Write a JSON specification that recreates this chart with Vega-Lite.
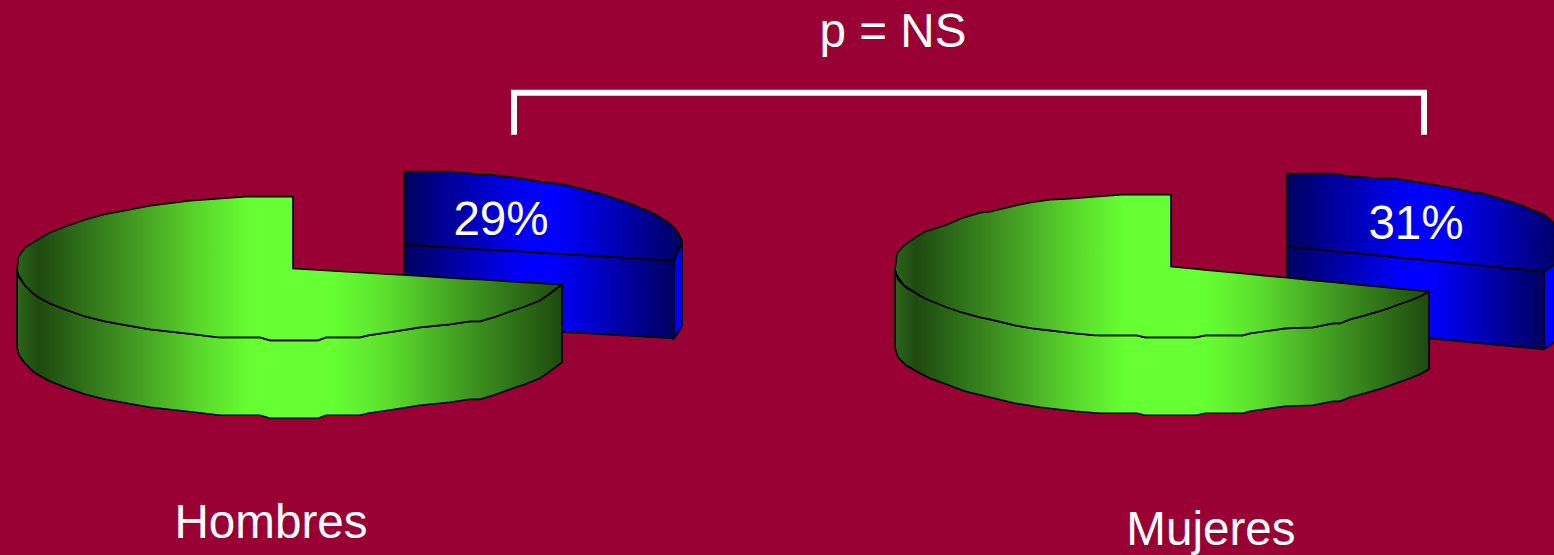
{"$schema":"https://vega.github.io/schema/vega-lite/v6.json","width":1554,"height":555,"autosize":{"type":"fit","contains":"padding"},"padding":0,"background":"#990033","config":{"view":{"stroke":null}},
"encoding":{"x":{"field":"x","type":"quantitative","axis":null,"scale":{"domain":[0,1554],"nice":false,"zero":false}},"y":{"field":"y","type":"quantitative","axis":null,"scale":{"domain":[555,0],"nice":false,"zero":false}}},
"layer":[
{"data":{"values":[{"x":514,"y":135,"i":0},{"x":514,"y":93,"i":1},{"x":1424,"y":93,"i":2},{"x":1424,"y":135,"i":3}]},"mark":{"type":"line","color":"#ffffff","strokeWidth":6,"strokeJoin":"miter","strokeCap":"butt"},"encoding":{"order":{"field":"i","type":"quantitative"}}},
{"data":{"values":[{"x":404,"y":245,"y2":323},{"x":674,"y":261,"y2":339}]},"mark":{"type":"area","orient":"vertical","stroke":"#000000","strokeWidth":1.7,"fill":{"gradient":"linear","stops":[{"offset":0,"color":"#000060"},{"offset":0.45,"color":"#0000ff"},{"offset":0.55,"color":"#0000ff"},{"offset":1,"color":"#000060"}]}},"encoding":{"y2":{"field":"y2"}}},
{"data":{"values":[{"x":674,"y":261,"y2":339},{"x":679,"y":250,"y2":332},{"x":682,"y":241,"y2":326}]},"mark":{"type":"area","orient":"vertical","stroke":"#000000","strokeWidth":1.7,"fill":"#0000ff"},"encoding":{"y2":{"field":"y2"}}},
{"data":{"values":[{"x":404,"y":172,"y2":245},{"x":453,"y":172,"y2":247.9},{"x":480,"y":175,"y2":249.5},{"x":490,"y":175,"y2":250.1},{"x":515,"y":178,"y2":251.6},{"x":540,"y":182,"y2":253.1},{"x":565,"y":185,"y2":254.5},{"x":600,"y":194,"y2":256.6},{"x":625,"y":202,"y2":258.1},{"x":650,"y":212,"y2":259.6},{"x":660,"y":217.5,"y2":260.2},{"x":670,"y":224,"y2":260.8},{"x":674,"y":228,"y2":261},{"x":678,"y":233,"y2":251},{"x":682,"y":241,"y2":243}]},"mark":{"type":"area","orient":"vertical","stroke":"#000000","strokeWidth":1.7,"fill":{"gradient":"linear","stops":[{"offset":0,"color":"#000060"},{"offset":0.45,"color":"#0000ff"},{"offset":0.55,"color":"#0000ff"},{"offset":1,"color":"#000060"}]}},"encoding":{"y2":{"field":"y2"}}},
{"data":{"values":[{"x":1287,"y":247,"y2":325},{"x":1544,"y":272,"y2":350}]},"mark":{"type":"area","orient":"vertical","stroke":"#000000","strokeWidth":1.7,"fill":{"gradient":"linear","stops":[{"offset":0,"color":"#000060"},{"offset":0.45,"color":"#0000ff"},{"offset":0.55,"color":"#0000ff"},{"offset":1,"color":"#000060"}]}},"encoding":{"y2":{"field":"y2"}}},
{"data":{"values":[{"x":1544,"y":272,"y2":350},{"x":1554,"y":265,"y2":343},{"x":1565,"y":250,"y2":330}]},"mark":{"type":"area","orient":"vertical","clip":true,"stroke":"#000000","strokeWidth":1.7,"fill":"#0000ff"},"encoding":{"y2":{"field":"y2"}}},
{"data":{"values":[{"x":1287,"y":174,"y2":247},{"x":1333,"y":174,"y2":251.5},{"x":1345,"y":176,"y2":252.6},{"x":1370,"y":178,"y2":255.1},{"x":1395,"y":179,"y2":257.5},{"x":1420,"y":183,"y2":259.9},{"x":1445,"y":187,"y2":262.4},{"x":1470,"y":192,"y2":264.8},{"x":1480,"y":193,"y2":265.8},{"x":1500,"y":199,"y2":267.8},{"x":1520,"y":205,"y2":269.7},{"x":1533,"y":210.5,"y2":271},{"x":1544,"y":215,"y2":272},{"x":1554,"y":223,"y2":265},{"x":1565,"y":241,"y2":250}]},"mark":{"type":"area","orient":"vertical","clip":true,"stroke":"#000000","strokeWidth":1.7,"fill":{"gradient":"linear","stops":[{"offset":0,"color":"#000060"},{"offset":0.45,"color":"#0000ff"},{"offset":0.55,"color":"#0000ff"},{"offset":1,"color":"#000060"}]}},"encoding":{"y2":{"field":"y2"}}},
{"data":{"values":[{"x":17,"y":270,"y2":348},{"x":19,"y":278,"y2":356},{"x":25,"y":286,"y2":364},{"x":33,"y":294,"y2":372},{"x":38,"y":297.5,"y2":375.5},{"x":50,"y":304,"y2":382},{"x":65,"y":310,"y2":388},{"x":85,"y":317,"y2":395},{"x":105,"y":322,"y2":400},{"x":127,"y":326,"y2":404},{"x":150,"y":330,"y2":408},{"x":195,"y":335,"y2":413},{"x":220,"y":338,"y2":416},{"x":260,"y":338,"y2":416},{"x":270,"y":341,"y2":419},{"x":318,"y":341,"y2":419},{"x":326,"y":338,"y2":416},{"x":360,"y":338,"y2":416},{"x":368,"y":336,"y2":414},{"x":395,"y":332,"y2":410},{"x":420,"y":328,"y2":406},{"x":450,"y":325,"y2":403},{"x":470,"y":322,"y2":400},{"x":480,"y":322,"y2":400},{"x":495,"y":317.5,"y2":395.5},{"x":510,"y":312,"y2":390},{"x":525,"y":307,"y2":385},{"x":540,"y":301,"y2":379},{"x":550,"y":294,"y2":372},{"x":562,"y":285,"y2":363}]},"mark":{"type":"area","orient":"vertical","stroke":"#000000","strokeWidth":1.7,"fill":{"gradient":"linear","stops":[{"offset":0,"color":"#2c661a"},{"offset":0.04,"color":"#1e4a10"},{"offset":0.244,"color":"#48a825"},{"offset":0.336,"color":"#5ad82c"},{"offset":0.43,"color":"#66ff33"},{"offset":0.58,"color":"#66ff33"},{"offset":0.675,"color":"#5ce02e"},{"offset":0.79,"color":"#46a823"},{"offset":1,"color":"#1e4a10"}]}},"encoding":{"y2":{"field":"y2"}}},
{"data":{"values":[{"x":17,"y":270,"y2":270},{"x":18.5,"y":257,"y2":276},{"x":25,"y":248,"y2":286},{"x":33,"y":243,"y2":294},{"x":38,"y":240,"y2":297.5},{"x":50,"y":233,"y2":304},{"x":65,"y":227,"y2":310},{"x":85,"y":220,"y2":317},{"x":105,"y":214.5,"y2":322},{"x":127,"y":210.5,"y2":326},{"x":150,"y":206,"y2":330},{"x":190,"y":201,"y2":334.5},{"x":218,"y":199,"y2":338},{"x":245,"y":197,"y2":338},{"x":260,"y":197,"y2":338},{"x":270,"y":197,"y2":341},{"x":293,"y":197,"y2":341},{"x":293,"y":269,"y2":341},{"x":318,"y":270.5,"y2":341},{"x":326,"y":271,"y2":338},{"x":360,"y":273,"y2":338},{"x":368,"y":273.5,"y2":336},{"x":395,"y":275,"y2":332},{"x":420,"y":276.5,"y2":328},{"x":450,"y":278.4,"y2":325},{"x":470,"y":279.6,"y2":322},{"x":480,"y":280,"y2":322},{"x":495,"y":281,"y2":317.5},{"x":510,"y":282,"y2":312},{"x":525,"y":282.9,"y2":307},{"x":540,"y":283.7,"y2":301},{"x":550,"y":284.3,"y2":294},{"x":562,"y":285,"y2":285}]},"mark":{"type":"area","orient":"vertical","stroke":"#000000","strokeWidth":1.7,"fill":{"gradient":"linear","stops":[{"offset":0,"color":"#2c661a"},{"offset":0.04,"color":"#1e4a10"},{"offset":0.244,"color":"#48a825"},{"offset":0.336,"color":"#5ad82c"},{"offset":0.43,"color":"#66ff33"},{"offset":0.58,"color":"#66ff33"},{"offset":0.675,"color":"#5ce02e"},{"offset":0.79,"color":"#46a823"},{"offset":1,"color":"#1e4a10"}]}},"encoding":{"y2":{"field":"y2"}}},
{"data":{"values":[{"x":895,"y":270,"y2":348},{"x":898,"y":280,"y2":358},{"x":906,"y":288,"y2":366},{"x":920,"y":296,"y2":374},{"x":930,"y":301,"y2":379},{"x":945,"y":306.5,"y2":384.5},{"x":965,"y":314,"y2":392},{"x":990,"y":320,"y2":398},{"x":1015,"y":326,"y2":404},{"x":1040,"y":330,"y2":408},{"x":1075,"y":334,"y2":412},{"x":1100,"y":336,"y2":414},{"x":1137,"y":336,"y2":414},{"x":1145,"y":338,"y2":416},{"x":1196,"y":338,"y2":416},{"x":1205,"y":336,"y2":414},{"x":1243,"y":336,"y2":414},{"x":1250,"y":334,"y2":412},{"x":1285,"y":329,"y2":407},{"x":1313,"y":328,"y2":406},{"x":1333,"y":324,"y2":402},{"x":1340,"y":324,"y2":402},{"x":1350,"y":320,"y2":398},{"x":1365,"y":316,"y2":394},{"x":1382,"y":311,"y2":389},{"x":1396,"y":306,"y2":384},{"x":1410,"y":301,"y2":379},{"x":1420,"y":297,"y2":375},{"x":1429,"y":292,"y2":370}]},"mark":{"type":"area","orient":"vertical","stroke":"#000000","strokeWidth":1.7,"fill":{"gradient":"linear","stops":[{"offset":0,"color":"#2c661a"},{"offset":0.04,"color":"#1e4a10"},{"offset":0.244,"color":"#48a825"},{"offset":0.336,"color":"#5ad82c"},{"offset":0.43,"color":"#66ff33"},{"offset":0.58,"color":"#66ff33"},{"offset":0.675,"color":"#5ce02e"},{"offset":0.79,"color":"#46a823"},{"offset":1,"color":"#1e4a10"}]}},"encoding":{"y2":{"field":"y2"}}},
{"data":{"values":[{"x":895,"y":270,"y2":270},{"x":897,"y":254,"y2":276},{"x":904,"y":246,"y2":286},{"x":915,"y":238,"y2":293},{"x":925,"y":232,"y2":299},{"x":947,"y":225,"y2":308},{"x":962,"y":218.5,"y2":313},{"x":980,"y":213,"y2":318},{"x":990,"y":212,"y2":320},{"x":1015,"y":206,"y2":326},{"x":1032,"y":202.5,"y2":329},{"x":1050,"y":200,"y2":331},{"x":1070,"y":199,"y2":333.5},{"x":1095,"y":197,"y2":336},{"x":1122,"y":195,"y2":336},{"x":1137,"y":195,"y2":336},{"x":1145,"y":195,"y2":338},{"x":1171,"y":195,"y2":338},{"x":1171,"y":267,"y2":338},{"x":1196,"y":269.4,"y2":338},{"x":1205,"y":270.3,"y2":336},{"x":1243,"y":274,"y2":336},{"x":1250,"y":274.7,"y2":334},{"x":1285,"y":278,"y2":329},{"x":1313,"y":280.8,"y2":328},{"x":1333,"y":282.7,"y2":324},{"x":1340,"y":283.4,"y2":324},{"x":1350,"y":284.4,"y2":320},{"x":1365,"y":285.8,"y2":316},{"x":1382,"y":287.4,"y2":311},{"x":1396,"y":288.8,"y2":306},{"x":1410,"y":290.2,"y2":301},{"x":1420,"y":291.1,"y2":297},{"x":1429,"y":292,"y2":292}]},"mark":{"type":"area","orient":"vertical","stroke":"#000000","strokeWidth":1.7,"fill":{"gradient":"linear","stops":[{"offset":0,"color":"#2c661a"},{"offset":0.04,"color":"#1e4a10"},{"offset":0.244,"color":"#48a825"},{"offset":0.336,"color":"#5ad82c"},{"offset":0.43,"color":"#66ff33"},{"offset":0.58,"color":"#66ff33"},{"offset":0.675,"color":"#5ce02e"},{"offset":0.79,"color":"#46a823"},{"offset":1,"color":"#1e4a10"}]}},"encoding":{"y2":{"field":"y2"}}},
{"data":{"values":[{"x":893,"y":47,"label":"p = NS"},{"x":271,"y":539,"label":"Hombres"},{"x":1211,"y":546,"label":"Mujeres"},{"x":501,"y":235,"label":"29%"},{"x":1416,"y":239,"label":"31%"}]},"mark":{"type":"text","font":"Liberation Sans","fontSize":47.6,"color":"#ffffff","align":"center","baseline":"alphabetic"},"encoding":{"text":{"field":"label"}}}
]}
